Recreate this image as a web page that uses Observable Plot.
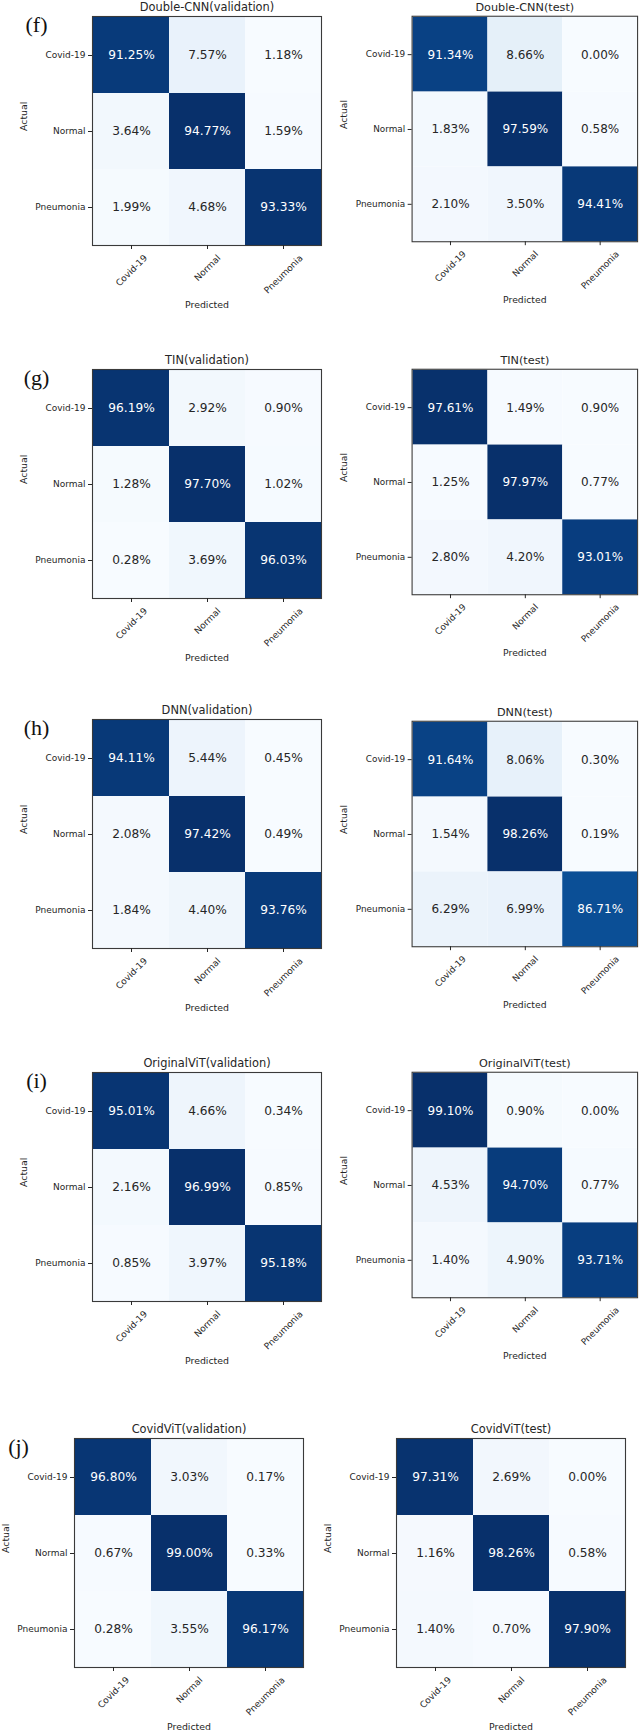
<!DOCTYPE html>
<html>
<head>
<meta charset="utf-8">
<script src="https://cdn.jsdelivr.net/npm/d3@7"></script>
<script src="https://cdn.jsdelivr.net/npm/@observablehq/plot@0.6"></script>
<style>
  html, body { margin: 0; padding: 0; background: #fff; overflow: hidden; }
  #root { position: relative; width: 643px; height: 1731px; overflow: hidden; }
  #root > .panel { position: absolute; }
</style>
</head>
<body>
<div id="root"></div>
<script>
// ---- data ----
const categories = ["Covid-19", "Normal", "Pneumonia"];

const doubleCnnValidation = [[91.25, 7.57, 1.18], [3.64, 94.77, 1.59], [1.99, 4.68, 93.33]];
const doubleCnnTest       = [[91.34, 8.66, 0.00], [1.83, 97.59, 0.58], [2.10, 3.50, 94.41]];
const tinValidation       = [[96.19, 2.92, 0.90], [1.28, 97.70, 1.02], [0.28, 3.69, 96.03]];
const tinTest             = [[97.61, 1.49, 0.90], [1.25, 97.97, 0.77], [2.80, 4.20, 93.01]];
const dnnValidation       = [[94.11, 5.44, 0.45], [2.08, 97.42, 0.49], [1.84, 4.40, 93.76]];
const dnnTest             = [[91.64, 8.06, 0.30], [1.54, 98.26, 0.19], [6.29, 6.99, 86.71]];
const originalVitValidation = [[95.01, 4.66, 0.34], [2.16, 96.99, 0.85], [0.85, 3.97, 95.18]];
const originalVitTest       = [[99.10, 0.90, 0.00], [4.53, 94.70, 0.77], [1.40, 4.90, 93.71]];
const covidVitValidation  = [[96.80, 3.03, 0.17], [0.67, 99.00, 0.33], [0.28, 3.55, 96.17]];
const covidVitTest        = [[97.31, 2.69, 0.00], [1.16, 98.26, 0.58], [1.40, 0.70, 97.90]];

const panelTitles = [
  "Double-CNN(validation)", "Double-CNN(test)",
  "TIN(validation)", "TIN(test)",
  "DNN(validation)", "DNN(test)",
  "OriginalViT(validation)", "OriginalViT(test)",
  "CovidViT(validation)", "CovidViT(test)"
];
const panelLetters = ["(f)", "(g)", "(h)", "(i)", "(j)"];
const xLabel = "Predicted";
const yLabel = "Actual";

// ---- layout ----
const matrices = [doubleCnnValidation, doubleCnnTest, tinValidation, tinTest, dnnValidation, dnnTest,
  originalVitValidation, originalVitTest, covidVitValidation, covidVitTest];
const boxPos = [
  [92, 16], [413, 16],
  [92, 369], [413, 369],
  [92, 719], [413, 721],
  [92, 1072], [413, 1072],
  [74, 1438], [396, 1438]
];
const BOX = 229, ML = 92, MT = 16, MR = 6, MB = 72;
const FONT = "DejaVu Sans";
const INK = "#262626";

const ctx = document.createElement("canvas").getContext("2d");
const TICKFS = 9;
ctx.font = `${TICKFS}px "${FONT}"`;
function halfBox(s) { return (ctx.measureText(s).width + TICKFS * 0.95) / (2 * Math.SQRT2); }

function panel(m, title, letter) {
  const rows = [];
  m.forEach((r, i) => r.forEach((v, j) => rows.push({actual: categories[i], predicted: categories[j], value: v})));
  const vals = rows.map(d => d.value);
  const lo = d3.min(vals), hi = d3.max(vals);
  const marks = [
    Plot.cell(rows, {x: "predicted", y: "actual", fill: "value", inset: 0}),
    Plot.text(rows, {x: "predicted", y: "actual", text: d => d.value.toFixed(2) + "%",
      fill: d => d.value > hi / 2 ? "#ffffff" : INK, fontSize: 12.2}),
    Plot.frame({stroke: "#3a3a3a", strokeWidth: 1.1}),
    Plot.axisY({anchor: "left", tickSize: 4, tickPadding: 3, fontSize: TICKFS, color: INK, label: null}),
    Plot.axisX({anchor: "bottom", tickSize: 4, stroke: INK, fill: "none", label: null}),
    ...categories.map(c => Plot.text([c], {x: d => d, frameAnchor: "bottom", dy: 8 + halfBox(c),
      rotate: -45, textAnchor: "middle", lineAnchor: "middle", fontSize: TICKFS, fill: INK})),
    Plot.text([xLabel], {frameAnchor: "bottom", dy: 59, lineAnchor: "middle", fontSize: 9.4, fill: INK}),
    Plot.text([yLabel], {frameAnchor: "left", dx: -69, rotate: -90, lineAnchor: "middle", fontSize: 9.4, fill: INK}),
    Plot.text([title], {frameAnchor: "top", dy: -9, lineAnchor: "middle", fontSize: 11.4, fill: INK})
  ];
  if (letter) {
    marks.push(Plot.text([letter], {frameAnchor: "top-left", dx: -56, dy: 8, textAnchor: "middle",
      lineAnchor: "middle", fontSize: 22, fontFamily: "Liberation Serif", fill: "#111"}));
  }
  return Plot.plot({
    width: ML + BOX + MR, height: MT + BOX + MB,
    marginLeft: ML, marginRight: MR, marginTop: MT, marginBottom: MB,
    style: {fontFamily: FONT, background: "transparent", overflow: "visible"},
    x: {domain: categories, padding: 0, axis: null},
    y: {domain: categories, padding: 0, axis: null},
    color: {type: "linear", scheme: "blues", domain: [lo, hi]},
    marks
  });
}

const root = document.getElementById("root");
matrices.forEach((m, k) => {
  const [bx, by] = boxPos[k];
  const svg = panel(m, panelTitles[k], k % 2 === 0 ? panelLetters[k / 2] : null);
  const wrap = document.createElement("div");
  wrap.className = "panel";
  wrap.style.left = (bx - ML) + "px";
  wrap.style.top = (by - MT) + "px";
  wrap.appendChild(svg);
  root.appendChild(wrap);
});
</script>
</body>
</html>
